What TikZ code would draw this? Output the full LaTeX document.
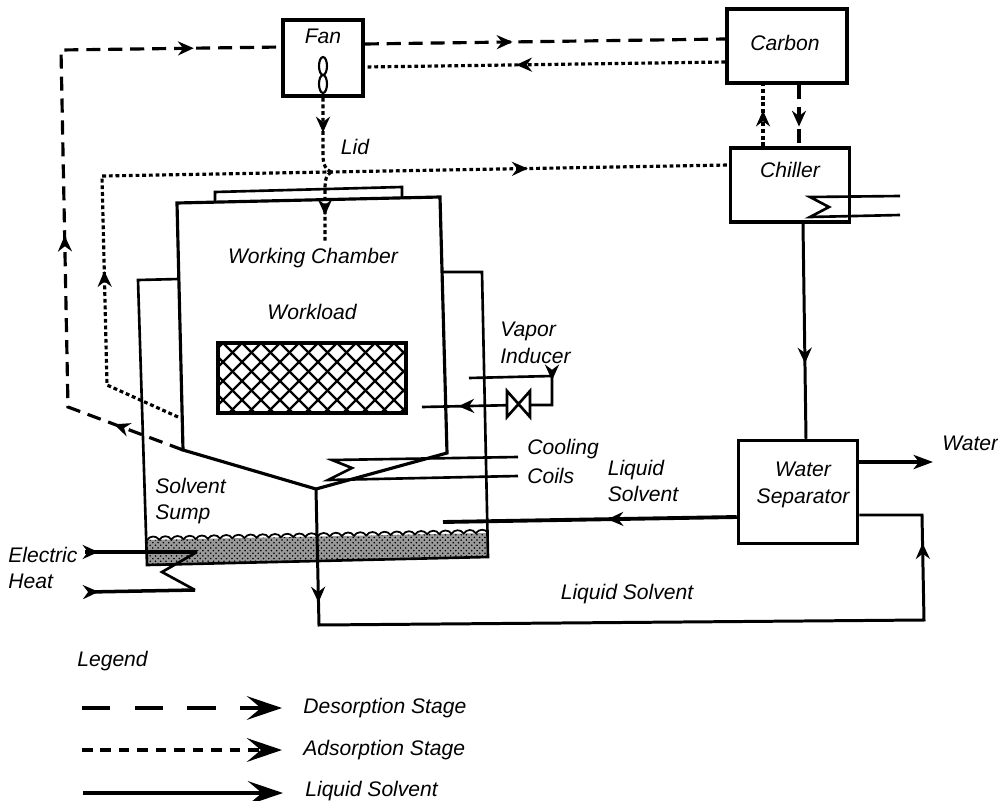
\documentclass[tikz,border=0pt]{standalone}
\usepackage{fontspec}
\setmainfont{Liberation Sans}
\usetikzlibrary{arrows.meta, patterns, calc, decorations.markings}
\tikzset{
  txt/.style={font=\fontsize{12}{15}\selectfont\itshape, inner sep=0pt, align=left},
  unit/.style={draw, line width=2pt, inner sep=0pt},
  wall/.style={line width=1.5pt},
  flow/.style={line width=1.7pt},
  desorb/.style={line width=1.8pt, dash pattern=on 8pt off 4.5pt},
  adsorb/.style={line width=1.8pt, dash pattern=on 2.2pt off 1.6pt},
  tipat/.style={postaction={decorate, decoration={markings,
    mark=at position #1 with {\arrow[solid]{Stealth[length=9pt, width=8pt, inset=3pt]}}}}},
  bigtip/.style={-{Stealth[length=20pt, width=13.5pt, inset=8pt]}},
}
\begin{document}
\begin{tikzpicture}[x=0.02cm, y=-0.02cm]
  \useasboundingbox (0,0) rectangle (998,801);
  % boxes
  \node[unit, minimum width=1.6cm, minimum height=1.52cm] (fan) at (323,58) {};
  \node[unit, minimum width=2.4cm, minimum height=1.48cm] (carbon) at (787,46) {};
  \node[unit, minimum width=2.38cm, minimum height=1.48cm] (chiller) at (790,185) {};
  \node[unit, minimum width=2.38cm, minimum height=2.06cm] (separator) at (798,492) {};
  \node[txt] (fanlabel) at (323,36) {Fan};
  \node[txt] (carbonlabel) at (785,43) {Carbon};
  \node[txt] (chillerlabel) at (790,170) {Chiller};
  \node[txt, align=center] (separatorlabel) at (803,485) {Water\\Separator};
  % fan blade
  \draw[line width=1.2pt] (323,66) ellipse [x radius=4, y radius=9];
  \draw[line width=1.2pt] (323,84) ellipse [x radius=4, y radius=9];
  % sump liquid
  \fill[black!40] (147,540) -- (488,533) -- (488,557) -- (147,565) -- cycle;
  \fill[pattern=crosshatch dots, pattern color=black] (147,540) -- (488,533) -- (488,557) -- (147,565) -- cycle;
  \draw[line width=1pt] (147,540) \foreach \i in {1,...,28} { .. controls +(3,-4.5) and +(-3,-4.5) .. ++(12.18,-0.25)};
  % tank
  \draw[wall] (179,279) -- (138,280) -- (147,565) -- (488,557) -- (482,272) -- (443,272);
  % chamber and lid
  \coordinate (hopper) at (316,489);
  \coordinate (hopperL) at (183,450);
  \draw[line width=1.8pt] (hopperL) -- (177,203) -- (440,197) -- (447,453) -- (hopper) -- cycle;
  \draw[wall] (215,203) -- (215,192) -- (402,187) -- (402,198);
  % workload
  \begin{scope}
    \clip (218,343) rectangle (406,413);
    \foreach \x in {128,147,...,480} {
      \draw[line width=1.4pt] (\x,343) -- ++(72,72);
      \draw[line width=1.4pt] (\x,343) -- ++(-72,72);
    }
  \end{scope}
  \draw[line width=2.4pt] (218,343) rectangle (406,413);
  \node[txt] (chamberlabel) at (313,258) {Working Chamber};
  \node[txt] (workloadlabel) at (312,312) {Workload};
  % desorption lines
  \coordinate (desL) at (68,407);
  \coordinate (desT) at (61,50);
  \draw[desorb, tipat=0.105, tipat=0.42, tipat=0.875] (hopperL) -- (desL) -- (desT) -- ($(fan.west)+(0,-11)$);
  \draw[desorb, tipat=0.41] ($(fan.east)+(0,-14)$) -- ($(carbon.west)+(0,-7)$);
  \draw[desorb, tipat=0.68] ($(carbon.south)+(12,0)$) -- ($(chiller.north)+(9,0)$);
  % adsorption lines
  \coordinate (adsA) at (178,417);
  \coordinate (adsB) at (107,385);
  \coordinate (adsC) at (102,176);
  \coordinate (lidbend) at (331,172);
  \coordinate (lidend) at (325,243);
  \draw[adsorb, tipat=0.21, tipat=0.78] (adsA) -- (adsB) -- (adsC) -- ($(chiller.west)+(0,-20)$);
  \draw[adsorb, tipat=0.58] ($(carbon.west)+(0,16)$) -- ($(fan.east)+(0,9)$);
  \draw[adsorb, tipat=0.58] ($(chiller.north)+(-27,0)$) -- ($(carbon.south)+(-24,0)$);
  \draw[adsorb, tipat=0.45] (fan.south) -- (323,155) .. controls (323,165) and (326,170) .. (lidbend);
  \draw[adsorb, tipat=0.62] (lidbend) .. controls (326,175) and (325,180) .. (325,190) -- (lidend);
  \node[txt] (lidlabel) at (355,147) {Lid};
  % vapor inducer
  \coordinate (vaporA) at (469,378);
  \coordinate (vaporB) at (552,376);
  \coordinate (vaporC) at (552,405);
  \coordinate (vaporD) at (422,407);
  \node[txt, anchor=west] (vaporlabel) at (500,343) {Vapor\\Inducer};
  \node[inner sep=0pt, minimum size=0pt] (valve) at (518,405) {};
  \draw[wall, tipat=0.6] (vaporA) -- (vaporB) -- (vaporC) -- (valve);
  \draw[wall, tipat=0.62] (valve) -- (vaporD);
  \draw[wall, fill=white] (507,391) -- (530,417) -- (530,391) -- (507,417) -- cycle;
  % cooling coils
  \coordinate (coolA) at (518,457);
  \coordinate (coolB) at (332,460);
  \coordinate (coolC) at (352,468);
  \coordinate (coolD) at (328,480);
  \coordinate (coolE) at (518,476);
  \draw[wall] (coolA) -- (coolB) -- (coolC) -- (coolD) -- (coolE);
  \node[txt, anchor=west] (coolinglabel) at (527,449) {Cooling};
  \node[txt, anchor=west] (coilslabel) at (527,476) {Coils};
  % chiller coil
  \coordinate (chilA) at (900,196);
  \coordinate (chilB) at (810,197);
  \coordinate (chilC) at (829,207);
  \coordinate (chilD) at (810,217);
  \coordinate (chilE) at (900,215);
  \draw[wall] (chilA) -- (chilB) -- (chilC) -- (chilD) -- (chilE);
  % liquid solvent lines
  \coordinate (inlet) at (443,522);
  \coordinate (loopA) at (319,625);
  \coordinate (loopB) at (924,620);
  \coordinate (loopC) at (922,515);
  \draw[flow, tipat=0.65] ($(chiller.south)+(13,0)$) -- ($(separator.north)+(8,0)$);
  \draw[line width=2.2pt, tipat=0.44] ($(separator.west)+(0,25)$) -- (inlet);
  \draw[line width=2.4pt, -{Stealth[length=11pt, width=8pt, inset=3pt]}] ($(separator.east)+(0,-30)$) -- (933,462);
  \draw[flow, tipat=0.125, tipat=0.9] (hopper) -- (loopA) -- (loopB) -- (loopC) -- ($(separator.east)+(0,23)$);
  \node[txt] (sollabelA) at (643,481) {Liquid\\Solvent};
  \node[txt] (sollabelB) at (627,594) {Liquid Solvent};
  \node[txt, anchor=west] (waterlabel) at (942,443) {Water};
  \node[txt, anchor=north west] (sumplabel) at (155,478) {Solvent\\Sump};
  % electric heat
  \coordinate (heatA) at (85,552);
  \coordinate (heatB) at (197,552);
  \coordinate (heatC) at (162,572);
  \coordinate (heatD) at (195,590);
  \coordinate (heatE) at (88,592);
  \draw[line width=2pt, tipat=0.12] (heatA) -- (heatB);
  \draw[wall] (heatB) -- (heatC) -- (heatD);
  \draw[line width=2pt, tipat=0.1] (heatE) -- (heatD);
  \node[txt, anchor=north west] (heatlabel) at (8,547) {Electric\\Heat};
  % legend
  \node[txt, anchor=west] (legendlabel) at (77,661) {Legend};
  \node[txt, anchor=west] (desorblabel) at (303,708) {Desorption Stage};
  \node[txt, anchor=west] (adsorblabel) at (303,750) {Adsorption Stage};
  \node[txt, anchor=west] (liquidlabel) at (305,791) {Liquid Solvent};
  \coordinate (desstart) at (82,708);
  \coordinate (desend) at (282,708);
  \coordinate (adsstart) at (82,750);
  \coordinate (adsend) at (282,750);
  \coordinate (liqstart) at (83,793);
  \coordinate (liqend) at (283,793);
  \draw[bigtip, line width=1.8pt, dash pattern=on 16pt off 14pt] (desstart) -- (desend);
  \draw[bigtip, line width=2pt, dash pattern=on 6pt off 4.5pt] (adsstart) -- (adsend);
  \draw[bigtip, line width=2.2pt] (liqstart) -- (liqend);
\end{tikzpicture}
\end{document}
